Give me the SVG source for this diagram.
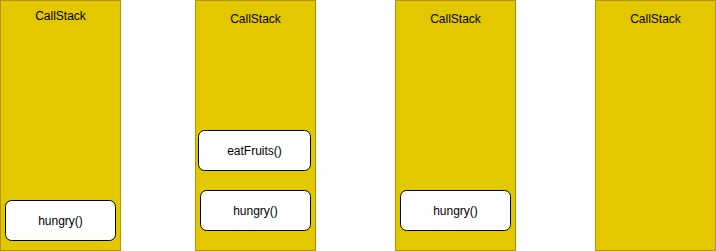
<svg xmlns="http://www.w3.org/2000/svg" width="716" height="251" viewBox="0 0 716 251">
<style>
.stack{fill:#e3c800;stroke:#b09500;stroke-width:1}
.frame{fill:#ffffff;stroke:#000000;stroke-width:1}
text{font-family:"Liberation Sans",Arial,sans-serif;font-size:12px;fill:#000000;text-anchor:middle}
</style>
<rect width="716" height="251" fill="#ffffff"/>
<g id="stack1"><rect class="stack" x="0.5" y="0.5" width="120" height="250"/><text x="60.5" y="19.5">CallStack</text></g>
<g id="stack2"><rect class="stack" x="195.5" y="0.5" width="120" height="250"/><text x="255.5" y="23">CallStack</text></g>
<g id="stack3"><rect class="stack" x="395.5" y="0.5" width="120" height="250"/><text x="455.5" y="23">CallStack</text></g>
<g id="stack4"><rect class="stack" x="595.5" y="0.5" width="120" height="250"/><text x="655.5" y="23">CallStack</text></g>
<g id="frame1"><rect class="frame" x="5.5" y="200.5" width="110" height="40" rx="6"/><text x="60.5" y="225">hungry()</text></g>
<g id="frame2a"><rect class="frame" x="198.5" y="130.5" width="112" height="40" rx="6"/><text x="254.5" y="155">eatFruits()</text></g>
<g id="frame2b"><rect class="frame" x="200.5" y="190.5" width="110" height="40" rx="6"/><text x="255.5" y="215">hungry()</text></g>
<g id="frame3"><rect class="frame" x="400.5" y="190.5" width="110" height="40" rx="6"/><text x="455.5" y="215">hungry()</text></g>
<g id="connectors"></g>
</svg>
